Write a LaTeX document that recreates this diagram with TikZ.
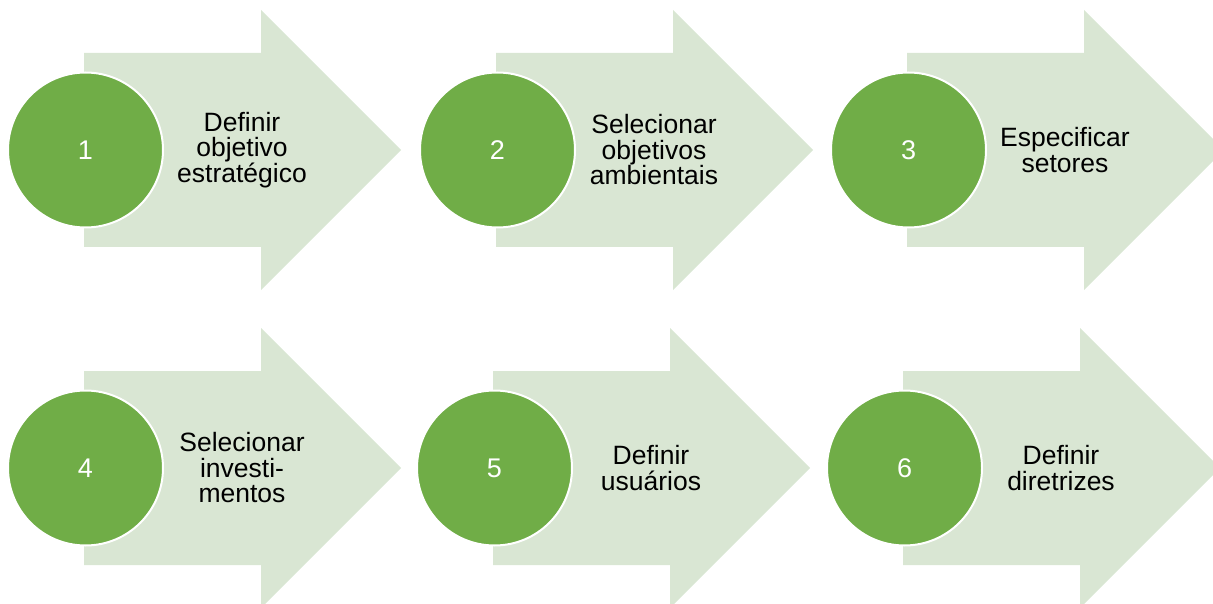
\documentclass[tikz,border=0pt]{standalone}
\usepackage{fontspec}
\setmainfont{Liberation Sans}
\definecolor{arrowfill}{RGB}{217,230,211}
\definecolor{circfill}{RGB}{112,173,71}
\tikzset{
  arrowshape/.style={fill=arrowfill},
  numcircle/.style={circle,fill=circfill,draw=white,line width=2pt,minimum size=155pt,inner sep=0pt,text=white,font=\fontsize{27}{30}\selectfont},
  steptext/.style={align=center,text=black,font=\fontsize{26.5}{25.5}\selectfont,inner sep=0pt}
}
\newcommand{\pstep}[5]{%
  \fill[arrowshape] (#2,#3-97) -- (#2+177,#3-97) -- (#2+177,#3-140) -- (#2+317,#3) -- (#2+177,#3+140) -- (#2+177,#3+97) -- (#2,#3+97) -- cycle;
  \node[numcircle] (#1c) at (#2+1.5,#3) {#4};
  \node[steptext] (#1t) at (#2+158,#3) {#5};
}
\begin{document}
\begin{tikzpicture}[x=1pt,y=-1pt]
\useasboundingbox (0,0) rectangle (1213,604);
\clip (0,0) rectangle (1213,604);
\pstep{s1}{84}{150}{1}{Definir\\objetivo\\estratégico}
\pstep{s2}{496}{150}{2}{Selecionar\\objetivos\\ambientais}
\pstep{s3}{907}{150}{3}{Especificar\\setores}
\pstep{s4}{84}{468}{4}{Selecionar\\investi-\\mentos}
\pstep{s5}{493}{468}{5}{Definir\\usuários}
\pstep{s6}{903}{468}{6}{Definir\\diretrizes}
\end{tikzpicture}
\end{document}
